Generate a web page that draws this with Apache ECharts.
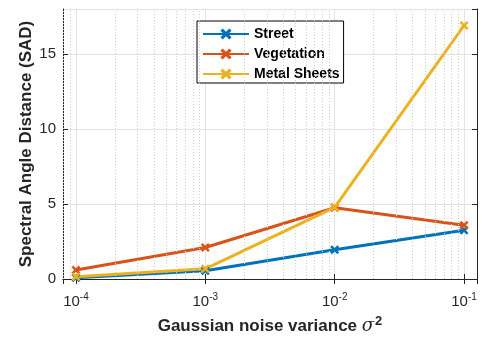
<!DOCTYPE html>
<html>
<head>
<meta charset="utf-8">
<script src="https://cdn.jsdelivr.net/npm/echarts@6/dist/echarts.min.js"></script>
<style>
  html, body { margin: 0; padding: 0; background: #fff; }
  #chart { width: 482px; height: 341px; }
</style>
</head>
<body>
<div id="chart"></div>
<script>
// noise variance (x) and SAD values per material
var variance = [1e-4, 1e-3, 1e-2, 1e-1];
var street = [0.08, 0.55, 1.95, 3.25];
var vegetation = [0.6, 2.1, 4.75, 3.58];
var metalSheets = [0.15, 0.68, 4.78, 16.9];
var seriesNames = ['Street', 'Vegetation', 'Metal Sheets'];
var yTicks = [0, 5, 10, 15];

// dotted minor grid on the log axis (2..9 within each decade)
var minorGrid = [8e-5, 9e-5];
[1e-4, 1e-3, 1e-2].forEach(function (d) {
    for (var k = 2; k <= 9; k++) minorGrid.push(k * d);
});

var colors = ['#0072BD', '#D95319', '#EDB120'];
var xMin = Math.pow(10, -4.1);
var xMax = Math.pow(10, -0.9);
var axisColor = '#262626';
var font = 'Liberation Sans, Arial, sans-serif';

var crossPath = 'path://M0,2 L2,0 L5,3 L8,0 L10,2 L7,5 L10,8 L8,10 L5,7 L2,10 L0,8 L3,5 Z';

function pairs(ys) {
    return variance.map(function (x, i) { return [x, ys[i]]; });
}

function makeSeries(name, ys, color) {
    return {
        name: name,
        type: 'line',
        data: pairs(ys),
        z: 3,
        symbol: crossPath,
        symbolSize: 9,
        showAllSymbol: true,
        lineStyle: { width: 3, color: color },
        itemStyle: { color: color },
        emphasis: { disabled: true }
    };
}

var myChart = echarts.init(document.getElementById('chart'));

var option = {
    animation: false,
    backgroundColor: '#fff',
    textStyle: { fontFamily: font },
    grid: { left: 63, right: 5, top: 9, bottom: 62, containLabel: false },
    legend: {
        data: seriesNames,
        orient: 'vertical',
        left: 197,
        top: 21,
        padding: [6, 4, 2, 5],
        itemWidth: 46,
        itemHeight: 14,
        itemGap: 6,
        backgroundColor: '#fff',
        borderColor: '#000',
        borderWidth: 1,
        borderRadius: 0,
        selectedMode: false,
        textStyle: { fontSize: 14, fontWeight: 'bold', color: '#000', fontFamily: font }
    },
    xAxis: [{
        type: 'log',
        logBase: 10,
        min: xMin,
        max: xMax,
        name: '{t|Gaussian noise variance }{g|σ}{p|2}',
        nameLocation: 'middle',
        nameGap: 36,
        nameMoveOverlap: false,
        nameTextStyle: {
            rich: {
                t: { fontSize: 17, fontWeight: 'bold', color: axisColor, fontFamily: font },
                g: { fontSize: 18, fontStyle: 'italic', color: axisColor, fontFamily: 'DejaVu Serif, serif' },
                p: { fontSize: 13, fontWeight: 'bold', color: axisColor, fontFamily: font, padding: [0, 0, 10, 1] }
            }
        },
        axisLine: { show: true, lineStyle: { color: axisColor, width: 1 } },
        axisTick: { show: true, inside: true, length: 5, lineStyle: { color: axisColor } },
        axisLabel: {
            margin: 13,
            showMinLabel: false,
            showMaxLabel: false,
            formatter: function (v) {
                var e = Math.round(Math.log10(v));
                return '{b|10}{s|' + e + '}';
            },
            rich: {
                b: { fontSize: 15, color: axisColor, fontFamily: font },
                s: { fontSize: 10, color: axisColor, fontFamily: font, padding: [0, 0, 9, 0] }
            }
        },
        splitLine: { show: true, lineStyle: { color: '#e3e3e3', width: 1 } },
        minorTick: { show: false },
        minorSplitLine: { show: false }
    }, {
        type: 'log',
        logBase: 10,
        position: 'top',
        min: xMin,
        max: xMax,
        axisLine: { show: true, lineStyle: { color: axisColor, width: 1 } },
        axisTick: { show: true, inside: true, length: 5, lineStyle: { color: axisColor } },
        axisLabel: { show: false },
        splitLine: { show: false }
    }],
    yAxis: [{
        type: 'value',
        min: 0,
        max: 18,
        interval: 5,
        name: 'Spectral Angle Distance (SAD)',
        nameLocation: 'middle',
        nameGap: 28,
        nameMoveOverlap: false,
        nameTextStyle: { fontSize: 17, fontWeight: 'bold', color: axisColor, fontFamily: font },
        axisLine: { show: true, lineStyle: { color: axisColor, width: 1 } },
        axisTick: { show: true, inside: true, length: 5, lineStyle: { color: axisColor } },
        axisLabel: {
            margin: 7,
            fontSize: 15,
            color: axisColor,
            fontFamily: font,
            showMaxLabel: false,
            formatter: function (v) { return yTicks.indexOf(v) >= 0 ? String(v) : ''; }
        },
        splitLine: { show: true, lineStyle: { color: '#e3e3e3', width: 1 } }
    }, {
        type: 'value',
        position: 'right',
        min: 0,
        max: 18,
        interval: 5,
        axisLine: { show: true, lineStyle: { color: axisColor, width: 1 } },
        axisTick: { show: true, inside: true, length: 5, lineStyle: { color: axisColor } },
        axisLabel: { show: false },
        splitLine: { show: false }
    }],
    series: [
        {
            name: 'minor-grid',
            type: 'line',
            data: [],
            z: 1,
            silent: true,
            markLine: {
                silent: true,
                precision: 10,
                symbol: 'none',
                label: { show: false },
                lineStyle: { color: '#cfcfcf', type: [1, 2], width: 1 },
                data: minorGrid.map(function (x) { return { xAxis: x }; })
            }
        },
        makeSeries(seriesNames[0], street, colors[0]),
        makeSeries(seriesNames[1], vegetation, colors[1]),
        makeSeries(seriesNames[2], metalSheets, colors[2])
    ]
};

myChart.setOption(option);
</script>
</body>
</html>
